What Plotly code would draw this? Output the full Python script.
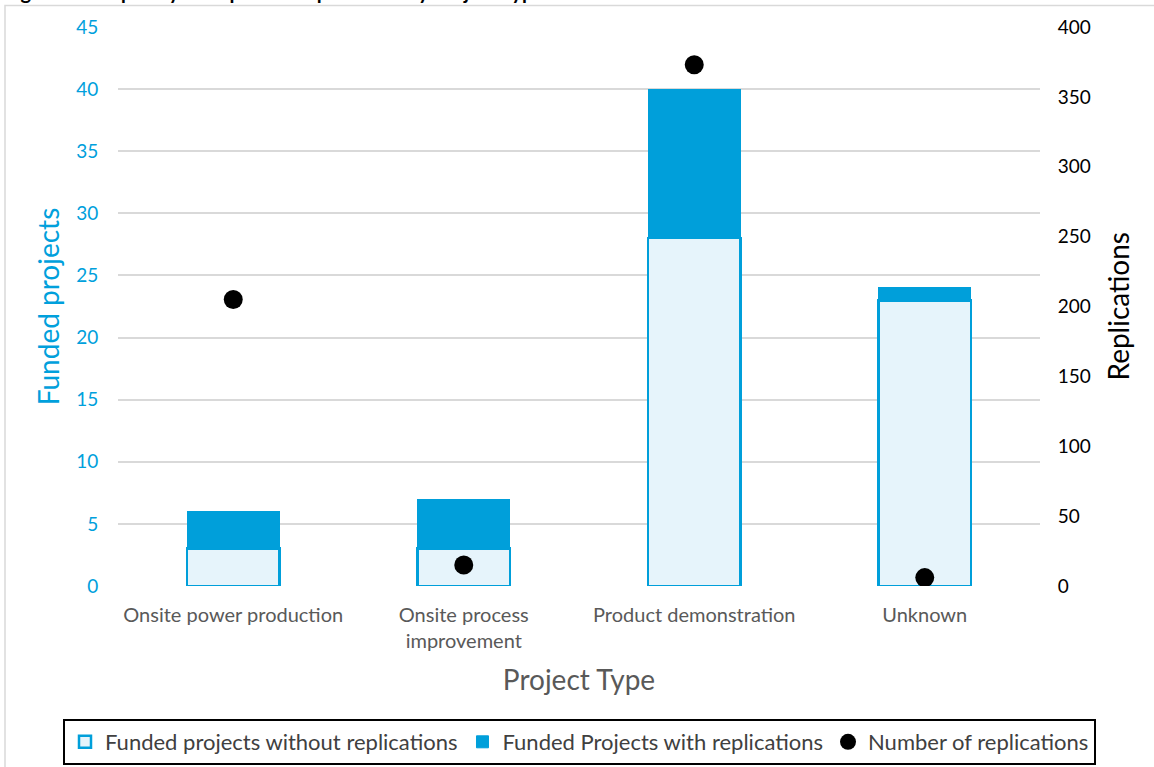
import plotly.graph_objects as go

# ---- data ----
categories = ["Onsite power production", "Onsite process<br>improvement",
              "Product demonstration", "Unknown"]
without_replications = [3, 3, 28, 23]
with_replications = [3, 4, 12, 1]
replications = [205, 15, 373, 6]

left_ticks = [0, 5, 10, 15, 20, 25, 30, 35, 40, 45]
right_ticks = [0, 50, 100, 150, 200, 250, 300, 350, 400]

# ---- styling ----
W, H = 1154, 767
ML, MR, MT, MB = 118, 114, 27, 181
BLUE = "#009FDA"
LIGHT = "#E6F4FB"
GRID = "#D9D9D9"
TEXT = "#595959"
FONT = "Lato, 'Open Sans', sans-serif"

plot_w = W - ML - MR
plot_h = H - MT - MB


def px_x(p):
    return (p - ML) / plot_w


def px_y(p):
    return (H - MB - p) / plot_h


fig = go.Figure()
fig.add_trace(go.Bar(
    x=categories, y=without_replications, name="Funded projects without replications",
    marker=dict(color=LIGHT, line=dict(color=BLUE, width=2.5)), width=0.4,
))
fig.add_trace(go.Bar(
    x=categories, y=with_replications, name="Funded Projects with replications",
    marker=dict(color=BLUE, line=dict(color=BLUE, width=1)), width=0.4,
))
fig.add_trace(go.Scatter(
    x=categories, y=replications, name="Number of replications", yaxis="y2",
    mode="markers", marker=dict(color="black", size=19),
))

fig.update_layout(
    width=W, height=H,
    margin=dict(l=ML, r=MR, t=MT, b=MB, autoexpand=False),
    paper_bgcolor="white", plot_bgcolor="white",
    barmode="stack", bargap=0.6,
    font=dict(family=FONT, color=TEXT, size=20),
    xaxis=dict(
        title=dict(text="Project Type", font=dict(size=28, color=TEXT), standoff=19),
        tickfont=dict(size=20, color=TEXT), showgrid=False, showline=False,
        ticks="outside", ticklen=11, tickcolor="rgba(0,0,0,0)",
    ),
    yaxis=dict(
        range=[0, 45], tickvals=left_ticks, showgrid=True, gridcolor=GRID, gridwidth=1.5,
        zeroline=False, showline=False,
        tickfont=dict(size=19, color="#00A0DC"),
        ticks="outside", ticklen=15, tickcolor="rgba(0,0,0,0)",
        title=dict(text="Funded projects", font=dict(size=28, color="#00A0DC"), standoff=8),
    ),
    yaxis2=dict(
        range=[0, 400], tickvals=right_ticks, overlaying="y", side="right",
        showgrid=False, zeroline=False, showline=False,
        tickfont=dict(size=19, color="black"),
        ticks="outside", ticklen=13, tickcolor="rgba(0,0,0,0)",
    ),
    legend=dict(
        orientation="h", x=px_x(63), xanchor="left",
        y=px_y(719), yanchor="top",
        bordercolor="black", borderwidth=2, bgcolor="white",
        font=dict(size=22, color="#404040"), traceorder="normal",
        itemwidth=30,
    ),
    showlegend=True,
)

# right axis title
fig.add_annotation(
    text="Replications", xref="paper", yref="paper", x=px_x(1117), y=0.5,
    xanchor="center", yanchor="middle", textangle=-90, showarrow=False,
    font=dict(size=28, color="black", family=FONT),
)

# chart-area frame
fig.add_shape(type="rect", xref="paper", yref="paper",
              x0=px_x(5), x1=px_x(1200), y0=px_y(800), y1=px_y(5.5),
              line=dict(color=GRID, width=1.5), fillcolor="rgba(0,0,0,0)", layer="below")

# caption above the chart area
fig.add_annotation(
    text="<b>Figure 4. Frequency of Reported Replications by Project Type</b>",
    xref="paper", yref="paper", x=px_x(2), y=1, xanchor="left", yanchor="bottom",
    yshift=MT - 5, showarrow=False, font=dict(size=20, color="black", family=FONT),
)

fig.write_html("out.html")
